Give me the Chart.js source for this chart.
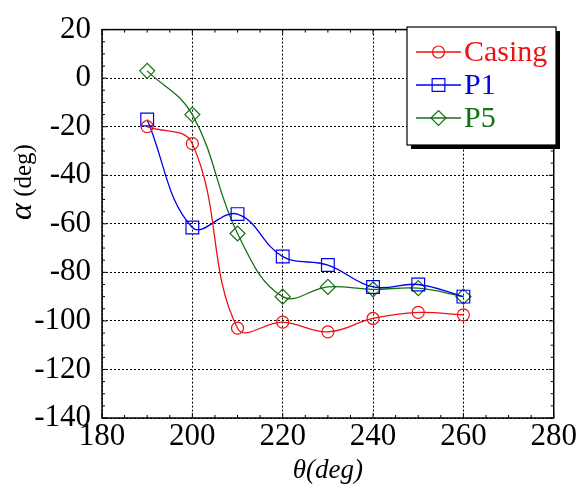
<!DOCTYPE html>
<html><head><meta charset="utf-8">
<script src="https://cdn.jsdelivr.net/npm/chart.js@4.4.0/dist/chart.umd.min.js"></script>
<style>html,body{margin:0;padding:0;background:#fff}#wrap{width:577px;height:487px;position:relative}
.pre{font-family:"Liberation Serif";position:absolute;left:-999px;top:0}</style>
</head><body><span class="pre">20 <i>θ(deg) α</i></span><div id="wrap"><canvas id="c" width="577" height="487"></canvas></div>
<script>
// ---- data ----
const theta = [190, 200, 210, 220, 230, 240, 250, 260];
const casing = [-20, -27, -103, -100.5, -104.5, -99, -96.5, -97.5];
const p1 = [-17, -61.5, -56, -73.5, -77, -86, -85, -90];
const p5 = [3, -15, -64, -90, -86, -87, -86.5, -90];
const seriesNames = ['Casing', 'P1', 'P5'];
const xTickValues = [180, 200, 220, 240, 260, 280];
const yTickValues = [20, 0, -20, -40, -60, -80, -100, -120, -140];
const xTitle = 'θ(deg)';
const yTitleSymbol = 'α';
const yTitleUnit = ' (deg)';

const colors = ['#ee1111', '#0000ee', '#127112'];
const styles = ['circle', 'rect', 'rectRot'];
const radii = [6, 9, 7.5];
const seriesValues = [casing, p1, p5];

const FONT = '"Liberation Serif", serif';

function drawMarker(ctx, style, x, y, r) {
  ctx.beginPath();
  if (style === 'circle') {
    ctx.arc(x, y, r, 0, Math.PI * 2);
  } else if (style === 'rect') {
    const s = r * Math.SQRT1_2;
    ctx.rect(x - s, y - s, 2 * s, 2 * s);
  } else {
    ctx.moveTo(x - r, y); ctx.lineTo(x, y - r); ctx.lineTo(x + r, y); ctx.lineTo(x, y + r); ctx.closePath();
  }
  ctx.stroke();
}

const framePlugin = {
  id: 'frame',
  afterDraw(chart) {
    const ctx = chart.ctx;
    const a = chart.chartArea;
    const xs = chart.scales.x, ys = chart.scales.y;
    ctx.save();
    ctx.strokeStyle = '#000';
    ctx.lineWidth = 1.5;
    ctx.setLineDash([]);
    ctx.strokeRect(a.left, a.top, a.right - a.left, a.bottom - a.top);
    ctx.lineWidth = 1;
    for (let v = -140; v <= 20; v += 5) {
      const y = ys.getPixelForValue(v);
      ctx.beginPath();
      ctx.moveTo(a.left, y); ctx.lineTo(a.left + (v % 20 === 0 ? 5 : 3), y);
      ctx.moveTo(a.right, y); ctx.lineTo(a.right - (v % 20 === 0 ? 5 : 3), y);
      ctx.stroke();
    }
    for (let v = 180; v <= 280; v += 5) {
      const x = xs.getPixelForValue(v);
      ctx.beginPath();
      ctx.moveTo(x, a.bottom); ctx.lineTo(x, a.bottom - (v % 20 === 0 ? 5 : 3));
      ctx.moveTo(x, a.top); ctx.lineTo(x, a.top + (v % 20 === 0 ? 5 : 3));
      ctx.stroke();
    }
    ctx.fillStyle = '#000';
    ctx.textBaseline = 'alphabetic';
    ctx.font = 'italic 27px ' + FONT;
    ctx.textAlign = 'center';
    ctx.fillText(xTitle, (a.left + a.right) / 2, 478);
    ctx.save();
    ctx.translate(31, 182);
    ctx.rotate(-Math.PI / 2);
    ctx.textAlign = 'left';
    ctx.font = 'italic 32px ' + FONT;
    const w1 = ctx.measureText(yTitleSymbol).width;
    ctx.font = '25px ' + FONT;
    const w2 = ctx.measureText(yTitleUnit).width;
    const start = -(w1 + w2) / 2;
    ctx.font = 'italic 32px ' + FONT;
    ctx.fillText(yTitleSymbol, start, 0);
    ctx.font = '25px ' + FONT;
    ctx.fillText(yTitleUnit, start + w1, 0);
    ctx.restore();
    const bx = 407, by = 27, bw = 149, bh = 118;
    ctx.fillStyle = '#000';
    ctx.fillRect(bx + 4, by + 4, bw, bh);
    ctx.fillStyle = '#fff';
    ctx.fillRect(bx, by, bw, bh);
    ctx.strokeStyle = '#000';
    ctx.lineWidth = 1.2;
    ctx.strokeRect(bx, by, bw, bh);
    const rows = [52, 85, 118];
    chart.data.datasets.forEach((ds, i) => {
      const y = rows[i];
      ctx.strokeStyle = ds.borderColor;
      ctx.lineWidth = 1.3;
      ctx.beginPath(); ctx.moveTo(416, y); ctx.lineTo(461, y); ctx.stroke();
      ctx.lineWidth = 1.2;
      drawMarker(ctx, ds.pointStyle, 438.5, y, ds.pointRadius);
      ctx.fillStyle = ds.borderColor;
      ctx.font = '30px ' + FONT;
      ctx.textAlign = 'left';
      ctx.textBaseline = 'middle';
      ctx.fillText(ds.label, 464, y + 1);
    });
    ctx.restore();
  }
};

function build() {
  const datasets = seriesNames.map((name, i) => ({
    label: name,
    data: theta.map((t, j) => ({x: t, y: seriesValues[i][j]})),
    borderColor: colors[i],
    backgroundColor: 'rgba(0,0,0,0)',
    borderWidth: 1.3,
    pointStyle: styles[i],
    pointRadius: radii[i],
    pointBorderWidth: 1.2,
    pointBorderColor: colors[i],
    pointBackgroundColor: 'rgba(0,0,0,0)',
    tension: 0.4,
    fill: false
  }));
  new Chart(document.getElementById('c'), {
    type: 'line',
    data: {datasets},
    plugins: [framePlugin],
    options: {
      responsive: false,
      animation: false,
      layout: {padding: {top: 26, right: 21, left: 0, bottom: 0}},
      plugins: {legend: {display: false}, tooltip: {enabled: false}},
      scales: {
        x: {
          type: 'linear', min: 180, max: 280,
          afterBuildTicks: s => { s.ticks = xTickValues.map(v => ({value: v})); },
          afterFit: s => { s.height = 69; },
          grid: {color: '#000', lineWidth: 1, drawTicks: false},
          border: {display: false, dash: [2, 2]},
          ticks: {color: '#000', font: {family: FONT, size: 31}, padding: 0, maxRotation: 0}
        },
        y: {
          type: 'linear', min: -140, max: 20,
          afterBuildTicks: s => { s.ticks = yTickValues.map(v => ({value: v})); },
          afterFit: s => { s.width = 102; },
          grid: {color: '#000', lineWidth: 1, drawTicks: false},
          border: {display: false, dash: [2, 2]},
          ticks: {color: '#000', font: {family: FONT, size: 31}, padding: 11}
        }
      }
    }
  });
}
Promise.all([
  document.fonts.load('31px "Liberation Serif"'),
  document.fonts.load('italic 31px "Liberation Serif"')
]).then(build, build);
</script>
</body></html>
